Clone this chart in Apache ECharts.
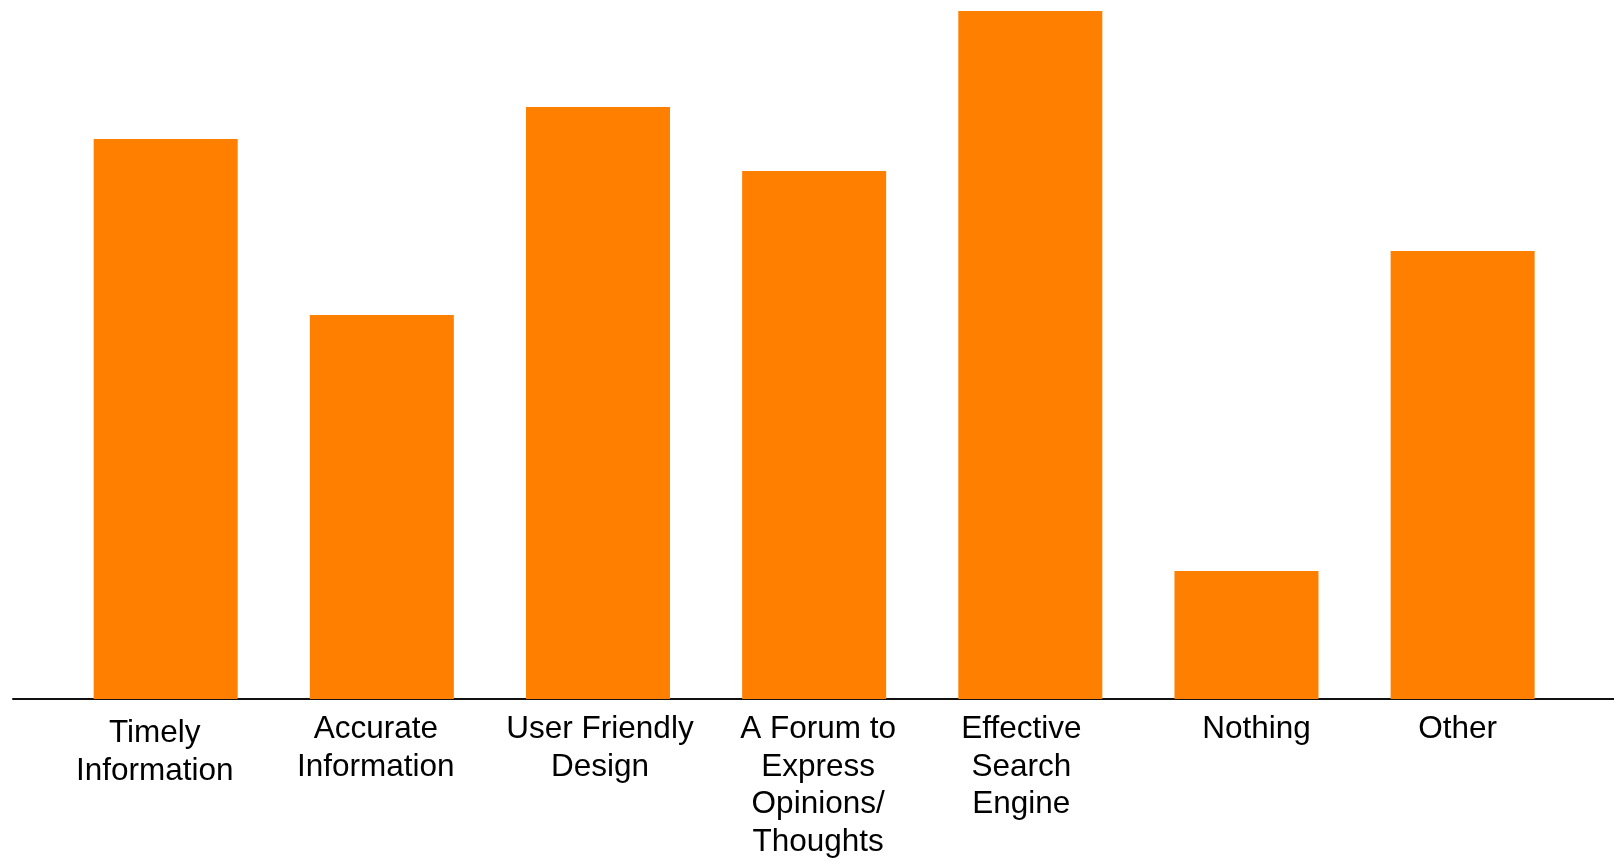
<!DOCTYPE html>
<html>
<head>
<meta charset="utf-8">
<script src="https://cdn.jsdelivr.net/npm/echarts@6/dist/echarts.min.js"></script>
<style>
html,body{margin:0;padding:0;background:#fff;}
#chart{width:1614px;height:862px;}
</style>
</head>
<body>
<div id="chart"></div>
<script>
const categories = [
  'Timely\nInformation',
  'Accurate\nInformation',
  'User Friendly\nDesign',
  'A Forum to\nExpress\nOpinions/\nThoughts',
  'Effective\nSearch\nEngine',
  'Nothing',
  'Other'
];
const responses = [35, 24, 37, 33, 43, 8, 28];

// small per-label nudges (layout only) to mimic the source's label placement
function labelPad(i) {
  const dx = [-11, -6, 2, 4, -9, 10, -5][i];
  const dy = i === 0 ? 4 : 0;
  return dx >= 0 ? [dy, 0, 0, dx * 2] : [dy, -dx * 2, 0, 0];
}

const chart = echarts.init(document.getElementById('chart'));
chart.setOption({
  animation: false,
  backgroundColor: '#ffffff',
  grid: [
    { left: 57.6, right: 43.3, top: 11, bottom: 163, containLabel: false },
    { left: 13, right: 0, top: 11, bottom: 163, containLabel: false }
  ],
  xAxis: [
    {
      type: 'category',
      gridIndex: 0,
      data: categories.map((c, i) => ({ value: c, textStyle: { padding: labelPad(i) } })),
      axisLine: { show: false },
      axisTick: { show: false },
      axisLabel: {
        interval: 0,
        margin: 12,
        color: '#000',
        fontFamily: 'Liberation Sans, Arial, sans-serif',
        fontSize: 31.5,
        lineHeight: 37.5
      }
    },
    {
      type: 'value',
      gridIndex: 1,
      min: 0, max: 1,
      axisLine: { show: true, onZero: false, lineStyle: { color: '#111', width: 2 } },
      axisTick: { show: false },
      axisLabel: { show: false },
      splitLine: { show: false }
    }
  ],
  yAxis: [
    {
      type: 'value',
      gridIndex: 0,
      min: 0,
      max: 'dataMax',
      show: false,
      splitLine: { show: false }
    },
    {
      type: 'value',
      gridIndex: 1,
      min: 0, max: 1,
      show: false,
      splitLine: { show: false }
    }
  ],
  series: [
    {
      type: 'bar',
      xAxisIndex: 0,
      yAxisIndex: 0,
      data: responses,
      barWidth: 144,
      itemStyle: { color: '#ff7f00' }
    }
  ]
});
</script>
</body>
</html>
